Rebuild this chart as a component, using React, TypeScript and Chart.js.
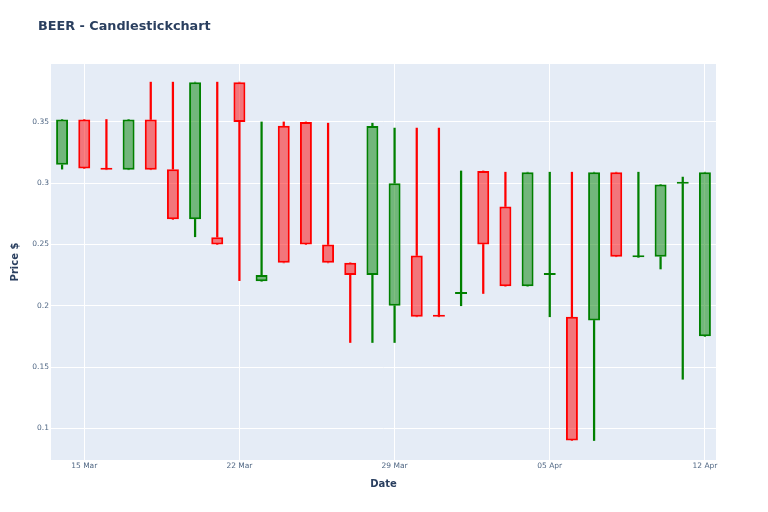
import React, { useEffect, useRef } from 'react';
import { Chart, registerables } from 'chart.js';

Chart.register(...registerables);

// ---- data ----
const dates = [
  '2020-03-14', '2020-03-15', '2020-03-16', '2020-03-17', '2020-03-18', '2020-03-19',
  '2020-03-20', '2020-03-21', '2020-03-22', '2020-03-23', '2020-03-24', '2020-03-25',
  '2020-03-26', '2020-03-27', '2020-03-28', '2020-03-29', '2020-03-30', '2020-03-31',
  '2020-04-01', '2020-04-02', '2020-04-03', '2020-04-04', '2020-04-05', '2020-04-06',
  '2020-04-07', '2020-04-08', '2020-04-09', '2020-04-10', '2020-04-11', '2020-04-12',
];
const opens = [
  0.315, 0.352, 0.312, 0.311, 0.352, 0.3115, 0.2705, 0.256, 0.3825, 0.22,
  0.347, 0.35, 0.25, 0.235, 0.225, 0.2, 0.241, 0.1915, 0.2095, 0.31,
  0.281, 0.216, 0.225, 0.191, 0.188, 0.309, 0.2395, 0.24, 0.2995, 0.175,
];
const highs = [
  0.352, 0.352, 0.352, 0.352, 0.3825, 0.3825, 0.3825, 0.3825, 0.3825, 0.35,
  0.35, 0.35, 0.349, 0.235, 0.349, 0.345, 0.345, 0.345, 0.31, 0.31,
  0.309, 0.309, 0.309, 0.309, 0.309, 0.309, 0.309, 0.299, 0.305, 0.309,
];
const lows = [
  0.3115, 0.312, 0.311, 0.311, 0.311, 0.2705, 0.2563, 0.25, 0.2205, 0.22,
  0.235, 0.25, 0.235, 0.17, 0.17, 0.17, 0.191, 0.191, 0.2, 0.21,
  0.216, 0.216, 0.191, 0.09, 0.09, 0.24, 0.2395, 0.23, 0.14, 0.175,
];
const closes = [
  0.352, 0.312, 0.311, 0.352, 0.311, 0.2705, 0.3825, 0.25, 0.35, 0.225,
  0.235, 0.25, 0.235, 0.225, 0.3467, 0.3, 0.191, 0.191, 0.21, 0.25,
  0.216, 0.309, 0.2255, 0.09, 0.309, 0.24, 0.24, 0.299, 0.3, 0.309,
];
const xTickDates = ['2020-03-15', '2020-03-22', '2020-03-29', '2020-04-05', '2020-04-12'];
const xTickLabels = ['15 Mar', '22 Mar', '29 Mar', '05 Apr', '12 Apr'];
const yTickValues = [0.1, 0.15, 0.2, 0.25, 0.3, 0.35];
const yMin = 0.0741;
const yMax = 0.3973;

const DAY = 86400000;
const t0 = Date.parse(dates[0]);
const dayIndex = (d: string) => (Date.parse(d) - t0) / DAY;
const xs = dates.map(dayIndex);
const xTickValues = xTickDates.map(dayIndex);

const INC_LINE = '#008000';
const INC_FILL = 'rgba(0,128,0,0.5)';
const DEC_LINE = '#ff0000';
const DEC_FILL = 'rgba(255,0,0,0.5)';
const isUp = (i: number) => closes[i] >= opens[i];
const lineColor = (i: number) => (isUp(i) ? INC_LINE : DEC_LINE);
const fillColor = (i: number) => (isUp(i) ? INC_FILL : DEC_FILL);

const FONT = "'DejaVu Sans', Verdana, sans-serif";
const TEXT = '#2a3f5f';

const plotBg = {
  id: 'plotBg',
  beforeDraw(chart: any) {
    const { ctx, chartArea } = chart;
    if (!chartArea) return;
    ctx.save();
    ctx.fillStyle = '#E5ECF6';
    ctx.fillRect(chartArea.left, chartArea.top, chartArea.right - chartArea.left, chartArea.bottom - chartArea.top);
    ctx.restore();
  },
};

export default function App() {
  const ref = useRef<HTMLCanvasElement | null>(null);

  useEffect(() => {
    if (!ref.current) return;
    const bodies = xs.map((x, i) => ({ x, y: [opens[i], closes[i]] }));
    const upperWicks = xs.map((x, i) => ({ x, y: [Math.max(opens[i], closes[i]), highs[i]] }));
    const lowerWicks = xs.map((x, i) => ({ x, y: [lows[i], Math.min(opens[i], closes[i])] }));

    const chart = new Chart(ref.current, {
      type: 'bar',
      data: {
        datasets: [
          {
            label: 'body',
            data: bodies as any,
            grouped: false,
            backgroundColor: (c: any) => fillColor(c.dataIndex),
            borderColor: (c: any) => lineColor(c.dataIndex),
            borderWidth: 2,
            borderSkipped: false,
            minBarLength: 2,
            categoryPercentage: 1,
            barPercentage: 0.54,
            order: 0,
          } as any,
          {
            label: 'upper wick',
            data: upperWicks as any,
            grouped: false,
            backgroundColor: (c: any) => lineColor(c.dataIndex),
            borderWidth: 0,
            barThickness: 1.6,
            order: 1,
          } as any,
          {
            label: 'lower wick',
            data: lowerWicks as any,
            grouped: false,
            backgroundColor: (c: any) => lineColor(c.dataIndex),
            borderWidth: 0,
            barThickness: 1.6,
            order: 2,
          } as any,
        ],
      },
      options: {
        animation: false,
        responsive: true,
        maintainAspectRatio: false,
        events: [],
        layout: { padding: { left: 0, right: 44, top: 56, bottom: 0 } },
        plugins: {
          legend: { display: false },
          tooltip: { enabled: false },
          title: { display: false },
        },
        scales: {
          x: {
            type: 'linear',
            min: -0.5,
            max: 29.5,
            offset: false,
            afterBuildTicks: (s: any) => {
              s.ticks = xTickValues.map((v) => ({ value: v }));
            },
            afterFit: (s: any) => {
              s.height = 44;
            },
            grid: { color: '#ffffff', lineWidth: 1, drawTicks: false, offset: false },
            border: { display: false },
            ticks: {
              padding: 2,
              maxRotation: 0,
              autoSkip: false,
              color: '#506784',
              font: { family: FONT, size: 7.5 },
              callback: (v: any) => {
                const k = xTickValues.indexOf(Number(v));
                return k >= 0 ? xTickLabels[k] : '';
              },
            },
            title: {
              display: true,
              text: 'Date',
              color: TEXT,
              font: { family: FONT, size: 10, weight: 'bold' },
              padding: { top: 0, bottom: 14 },
            },
          },
          y: {
            type: 'linear',
            min: yMin,
            max: yMax,
            afterBuildTicks: (s: any) => {
              s.ticks = yTickValues.map((v) => ({ value: v }));
            },
            afterFit: (s: any) => {
              s.width = 43;
            },
            grid: { color: '#ffffff', lineWidth: 1, drawTicks: false },
            border: { display: false },
            ticks: {
              padding: 2,
              color: '#506784',
              font: { family: FONT, size: 7.5 },
              callback: (v: any) => String(+Number(v).toFixed(2)),
            },
            title: {
              display: true,
              text: 'Price $',
              color: TEXT,
              font: { family: FONT, size: 10, weight: 'bold' },
              padding: { top: 1, bottom: 0 },
            },
          },
        },
      } as any,
      plugins: [plotBg],
    });
    return () => chart.destroy();
  }, []);

  return (
    <div style={{ position: 'relative', width: 752, height: 496 }}>
      <canvas ref={ref} />
      <div
        style={{
          position: 'absolute',
          left: 30,
          top: 12,
          fontFamily: FONT,
          fontWeight: 'bold',
          fontSize: 12.8,
          lineHeight: '12.8px',
          color: TEXT,
          whiteSpace: 'nowrap',
        }}
      >
        BEER - Candlestickchart
      </div>
    </div>
  );
}
